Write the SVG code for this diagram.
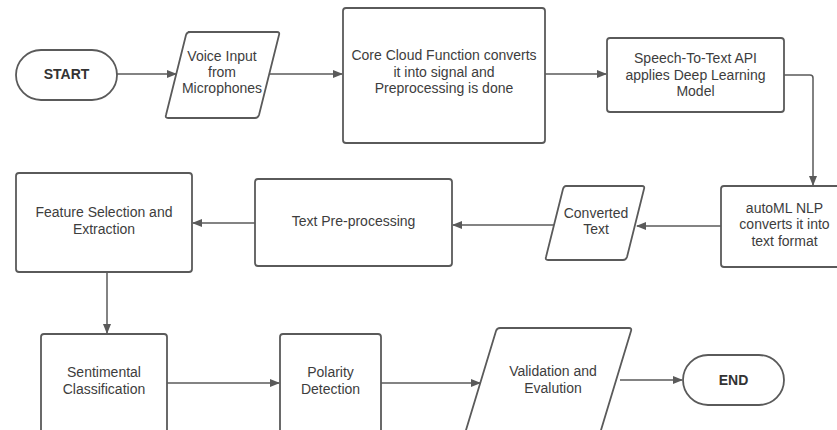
<svg xmlns="http://www.w3.org/2000/svg" width="837" height="430" viewBox="0 0 837 430">
<defs>
<marker id="ah" markerWidth="10" markerHeight="8" refX="9" refY="4" orient="auto" markerUnits="userSpaceOnUse">
<path d="M0,0 L10,4 L0,8 Z" fill="#5a5a5a"/>
</marker>
<style>
.shape{fill:#fff;stroke:#5a5a5a;stroke-width:1.8}
.conn{fill:none;stroke:#5a5a5a;stroke-width:1.5;marker-end:url(#ah)}
text{font-family:"Liberation Sans",Arial,sans-serif;font-size:14px;fill:#3d3d3d;text-anchor:middle}
.b{font-weight:bold;fill:#333}
</style>
</defs>
<rect width="837" height="430" fill="#fff"/>
<g id="connectors">
<path class="conn" d="M117,74 H176"/>
<path class="conn" d="M270,74 H342"/>
<path class="conn" d="M545,74 H606"/>
<path class="conn" d="M784,75 H810 Q813,75 813,78 V185"/>
<path class="conn" d="M721,226 H637"/>
<path class="conn" d="M554,225 H453"/>
<path class="conn" d="M255,223 H193"/>
<path class="conn" d="M107,272 V333"/>
<path class="conn" d="M167,383 H279"/>
<path class="conn" d="M381,383 H480"/>
<path class="conn" d="M620,380 H682"/>
</g>
<g id="start">
<rect class="shape" x="16" y="50" width="101" height="50" rx="25"/>
<text class="b" x="66.5" y="79">START</text>
</g>
<g id="voice">
<path class="shape" d="M188,32 H277 Q280,32 279,35 L259,115 Q258,118 255,118 H168 Q165,118 166,115 L186,35 Q187,32 190,32 Z"/>
<text x="222" y="61">Voice Input</text>
<text x="222" y="77">from</text>
<text x="222" y="93">Microphones</text>
</g>
<g id="core">
<rect class="shape" x="343" y="8" width="202" height="135" rx="3"/>
<text x="444" y="60">Core Cloud Function converts</text>
<text x="444" y="77">it into signal and</text>
<text x="444" y="93">Preprocessing is done</text>
</g>
<g id="speech">
<rect class="shape" x="607" y="38" width="177" height="74" rx="3"/>
<text x="695.5" y="63">Speech-To-Text API</text>
<text x="695.5" y="80">applies Deep Learning</text>
<text x="695.5" y="96">Model</text>
</g>
<g id="automl">
<rect class="shape" x="721" y="186" width="127" height="81" rx="3"/>
<text x="784.5" y="213">autoML NLP</text>
<text x="784.5" y="229">converts it into</text>
<text x="784.5" y="246">text format</text>
</g>
<g id="converted">
<path class="shape" d="M566,186 H642 Q645,186 644,189 L627,257 Q626,260 623,260 H548 Q545,260 546,257 L563,189 Q564,186 566,186 Z"/>
<text x="596" y="218">Converted</text>
<text x="596" y="234">Text</text>
</g>
<g id="textpre">
<rect class="shape" x="255" y="179" width="197" height="87" rx="3"/>
<text x="353.5" y="226">Text Pre-processing</text>
</g>
<g id="feature">
<rect class="shape" x="16" y="173" width="176" height="99" rx="3"/>
<text x="104" y="217">Feature Selection and</text>
<text x="104" y="234">Extraction</text>
</g>
<g id="sentimental">
<rect class="shape" x="41" y="334" width="126" height="110" rx="3"/>
<text x="104" y="377">Sentimental</text>
<text x="104" y="394">Classification</text>
</g>
<g id="polarity">
<rect class="shape" x="280" y="334" width="101" height="110" rx="3"/>
<text x="330.5" y="377">Polarity</text>
<text x="330.5" y="394">Detection</text>
</g>
<g id="validation">
<path class="shape" d="M500,328 H629 Q632,328 631,331 L598,440 H463 L496,331 Q497,328 500,328 Z"/>
<text x="553" y="376">Validation and</text>
<text x="553" y="393">Evalution</text>
</g>
<g id="end">
<rect class="shape" x="683" y="355" width="101" height="50" rx="25"/>
<text class="b" x="733.5" y="385">END</text>
</g>
</svg>
